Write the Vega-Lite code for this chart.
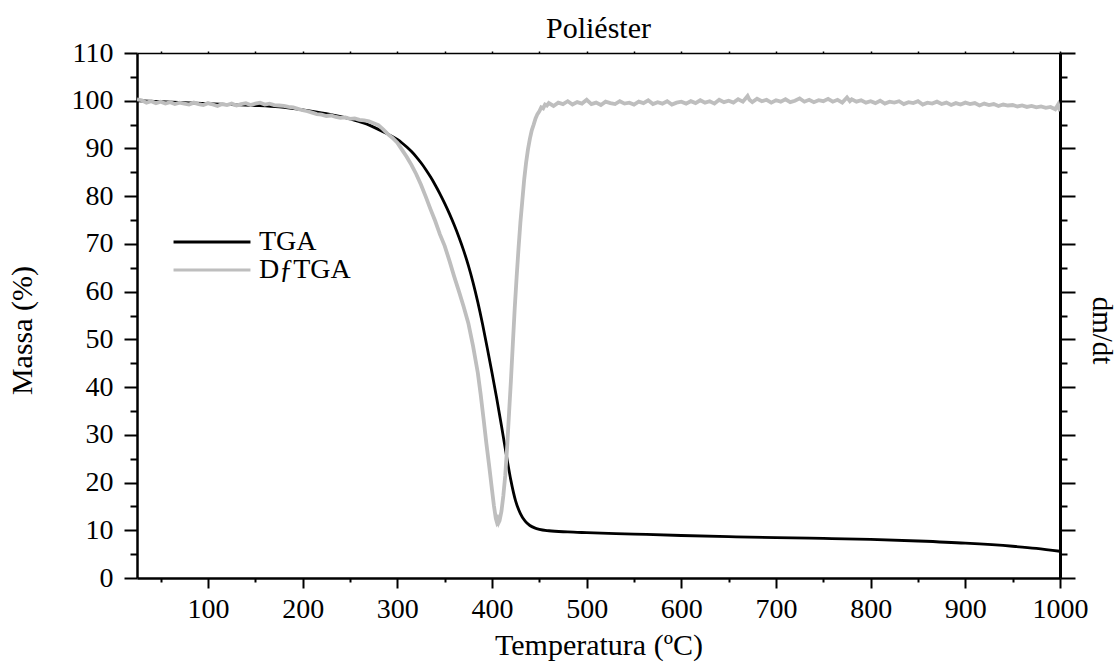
{
  "$schema": "https://vega.github.io/schema/vega-lite/v6.json",
  "width": 923,
  "height": 525,
  "autosize": {"type": "none"},
  "padding": {"left": 137, "top": 53, "right": 58, "bottom": 84},
  "background": "white",
  "title": {"text": "Poliéster", "font": "Liberation Serif", "fontSize": 30, "fontWeight": "normal", "color": "black", "offset": -5},
  "config": {
    "view": {"stroke": null},
    "axis": {"grid": false, "domainColor": "black", "tickColor": "black", "labelColor": "black", "titleColor": "black", "labelFont": "Liberation Serif", "titleFont": "Liberation Serif", "titleFontWeight": "normal", "labelFontWeight": "normal", "labelFlush": false, "labelOverlap": false, "labelBound": false, "tickCap": "butt", "format": "d"}
  },
  "data": {"values": [
    {"s":"TGA","T":25,"m":100.0},{"s":"TGA","T":50,"m":99.8},{"s":"TGA","T":75,"m":99.6},{"s":"TGA","T":100,"m":99.4},{"s":"TGA","T":125,"m":99.2},{"s":"TGA","T":150,"m":99.0},{"s":"TGA","T":175,"m":98.7},{"s":"TGA","T":200,"m":98.1},{"s":"TGA","T":225,"m":97.3},{"s":"TGA","T":250,"m":96.2},{"s":"TGA","T":265,"m":95.3},{"s":"TGA","T":280,"m":94.0},{"s":"TGA","T":290,"m":93.0},{"s":"TGA","T":300,"m":91.9},{"s":"TGA","T":305,"m":91.15},{"s":"TGA","T":310,"m":90.3},{"s":"TGA","T":315,"m":89.35},{"s":"TGA","T":320,"m":88.25},{"s":"TGA","T":325,"m":87.0},{"s":"TGA","T":330,"m":85.6},{"s":"TGA","T":335,"m":84.05},{"s":"TGA","T":340,"m":82.35},{"s":"TGA","T":345,"m":80.5},{"s":"TGA","T":350,"m":78.5},{"s":"TGA","T":355,"m":76.35},{"s":"TGA","T":360,"m":74.0},{"s":"TGA","T":365,"m":71.45},{"s":"TGA","T":370,"m":68.65},{"s":"TGA","T":375,"m":65.5},{"s":"TGA","T":380,"m":61.9},{"s":"TGA","T":385,"m":57.8},{"s":"TGA","T":390,"m":53.2},{"s":"TGA","T":395,"m":48.2},{"s":"TGA","T":400,"m":43.0},{"s":"TGA","T":405,"m":37.6},{"s":"TGA","T":410,"m":31.9},{"s":"TGA","T":415,"m":26.0},{"s":"TGA","T":420,"m":20.4},{"s":"TGA","T":425,"m":16.1},{"s":"TGA","T":430,"m":13.5},{"s":"TGA","T":435,"m":11.9},{"s":"TGA","T":440,"m":11.0},{"s":"TGA","T":445,"m":10.5},{"s":"TGA","T":450,"m":10.2},{"s":"TGA","T":460,"m":9.9},{"s":"TGA","T":480,"m":9.65},{"s":"TGA","T":500,"m":9.5},{"s":"TGA","T":550,"m":9.2},{"s":"TGA","T":600,"m":8.9},{"s":"TGA","T":650,"m":8.65},{"s":"TGA","T":700,"m":8.45},{"s":"TGA","T":750,"m":8.3},{"s":"TGA","T":800,"m":8.1},{"s":"TGA","T":850,"m":7.75},{"s":"TGA","T":900,"m":7.3},{"s":"TGA","T":950,"m":6.65},{"s":"TGA","T":975,"m":6.2},{"s":"TGA","T":1000,"m":5.6},
    {"s":"DƒTGA","T":25,"m":100.3},{"s":"DƒTGA","T":30,"m":100.1},{"s":"DƒTGA","T":35,"m":99.6},{"s":"DƒTGA","T":40,"m":99.9},{"s":"DƒTGA","T":45,"m":99.5},{"s":"DƒTGA","T":50,"m":99.8},{"s":"DƒTGA","T":55,"m":99.4},{"s":"DƒTGA","T":60,"m":99.7},{"s":"DƒTGA","T":65,"m":99.3},{"s":"DƒTGA","T":70,"m":99.6},{"s":"DƒTGA","T":75,"m":99.4},{"s":"DƒTGA","T":80,"m":99.2},{"s":"DƒTGA","T":85,"m":99.6},{"s":"DƒTGA","T":90,"m":99.3},{"s":"DƒTGA","T":95,"m":99.1},{"s":"DƒTGA","T":100,"m":99.5},{"s":"DƒTGA","T":105,"m":99.2},{"s":"DƒTGA","T":110,"m":98.9},{"s":"DƒTGA","T":115,"m":99.3},{"s":"DƒTGA","T":120,"m":99.1},{"s":"DƒTGA","T":125,"m":99.4},{"s":"DƒTGA","T":130,"m":99.0},{"s":"DƒTGA","T":135,"m":99.3},{"s":"DƒTGA","T":140,"m":99.5},{"s":"DƒTGA","T":145,"m":99.1},{"s":"DƒTGA","T":150,"m":99.4},{"s":"DƒTGA","T":155,"m":99.6},{"s":"DƒTGA","T":160,"m":99.2},{"s":"DƒTGA","T":165,"m":99.4},{"s":"DƒTGA","T":170,"m":99.1},{"s":"DƒTGA","T":175,"m":99.0},{"s":"DƒTGA","T":180,"m":98.9},{"s":"DƒTGA","T":185,"m":98.7},{"s":"DƒTGA","T":190,"m":98.6},{"s":"DƒTGA","T":195,"m":98.3},{"s":"DƒTGA","T":200,"m":98.0},{"s":"DƒTGA","T":205,"m":97.8},{"s":"DƒTGA","T":210,"m":97.5},{"s":"DƒTGA","T":215,"m":97.2},{"s":"DƒTGA","T":220,"m":97.1},{"s":"DƒTGA","T":225,"m":96.8},{"s":"DƒTGA","T":230,"m":96.9},{"s":"DƒTGA","T":235,"m":96.6},{"s":"DƒTGA","T":240,"m":96.4},{"s":"DƒTGA","T":245,"m":96.5},{"s":"DƒTGA","T":250,"m":96.2},{"s":"DƒTGA","T":255,"m":96.3},{"s":"DƒTGA","T":260,"m":96.0},{"s":"DƒTGA","T":265,"m":95.9},{"s":"DƒTGA","T":270,"m":95.7},{"s":"DƒTGA","T":275,"m":95.3},{"s":"DƒTGA","T":280,"m":94.9},{"s":"DƒTGA","T":285,"m":94.0},{"s":"DƒTGA","T":290,"m":93.0},{"s":"DƒTGA","T":295,"m":92.2},{"s":"DƒTGA","T":300,"m":91.2},{"s":"DƒTGA","T":305,"m":89.7},{"s":"DƒTGA","T":310,"m":88.2},{"s":"DƒTGA","T":315,"m":86.5},{"s":"DƒTGA","T":320,"m":84.6},{"s":"DƒTGA","T":325,"m":82.4},{"s":"DƒTGA","T":330,"m":79.9},{"s":"DƒTGA","T":335,"m":77.3},{"s":"DƒTGA","T":340,"m":74.8},{"s":"DƒTGA","T":345,"m":72.0},{"s":"DƒTGA","T":350,"m":69.6},{"s":"DƒTGA","T":355,"m":66.5},{"s":"DƒTGA","T":360,"m":63.2},{"s":"DƒTGA","T":365,"m":60.1},{"s":"DƒTGA","T":370,"m":56.9},{"s":"DƒTGA","T":375,"m":53.4},{"s":"DƒTGA","T":380,"m":48.6},{"s":"DƒTGA","T":385,"m":43.0},{"s":"DƒTGA","T":388,"m":38.5},{"s":"DƒTGA","T":391,"m":33.5},{"s":"DƒTGA","T":394,"m":28.3},{"s":"DƒTGA","T":397,"m":23.5},{"s":"DƒTGA","T":400,"m":18.5},{"s":"DƒTGA","T":402,"m":15.2},{"s":"DƒTGA","T":404,"m":12.5},{"s":"DƒTGA","T":405,"m":11.8},{"s":"DƒTGA","T":406,"m":12.3},{"s":"DƒTGA","T":407,"m":11.6},{"s":"DƒTGA","T":408,"m":12.0},{"s":"DƒTGA","T":410,"m":14.0},{"s":"DƒTGA","T":412,"m":17.3},{"s":"DƒTGA","T":414,"m":21.5},{"s":"DƒTGA","T":416,"m":27.5},{"s":"DƒTGA","T":418,"m":34.5},{"s":"DƒTGA","T":420,"m":41.4},{"s":"DƒTGA","T":422,"m":49.0},{"s":"DƒTGA","T":424,"m":56.5},{"s":"DƒTGA","T":426,"m":63.0},{"s":"DƒTGA","T":428,"m":69.0},{"s":"DƒTGA","T":430,"m":74.5},{"s":"DƒTGA","T":432,"m":79.0},{"s":"DƒTGA","T":434,"m":83.5},{"s":"DƒTGA","T":436,"m":87.0},{"s":"DƒTGA","T":438,"m":89.8},{"s":"DƒTGA","T":440,"m":92.0},{"s":"DƒTGA","T":442,"m":93.8},{"s":"DƒTGA","T":444,"m":95.0},{"s":"DƒTGA","T":446,"m":96.3},{"s":"DƒTGA","T":448,"m":97.2},{"s":"DƒTGA","T":450,"m":97.8},{"s":"DƒTGA","T":452,"m":98.6},{"s":"DƒTGA","T":454,"m":98.4},{"s":"DƒTGA","T":456,"m":99.2},{"s":"DƒTGA","T":458,"m":99.0},{"s":"DƒTGA","T":460,"m":99.5},
    {"s":"DƒTGA","T":465,"m":98.9},{"s":"DƒTGA","T":470,"m":99.6},{"s":"DƒTGA","T":475,"m":99.3},{"s":"DƒTGA","T":480,"m":99.9},{"s":"DƒTGA","T":485,"m":99.2},{"s":"DƒTGA","T":490,"m":99.7},{"s":"DƒTGA","T":495,"m":99.4},{"s":"DƒTGA","T":500,"m":100.2},{"s":"DƒTGA","T":505,"m":99.3},{"s":"DƒTGA","T":510,"m":99.6},{"s":"DƒTGA","T":515,"m":99.1},{"s":"DƒTGA","T":520,"m":99.8},{"s":"DƒTGA","T":525,"m":99.5},{"s":"DƒTGA","T":530,"m":99.3},{"s":"DƒTGA","T":535,"m":99.9},{"s":"DƒTGA","T":540,"m":99.4},{"s":"DƒTGA","T":545,"m":99.6},{"s":"DƒTGA","T":550,"m":99.2},{"s":"DƒTGA","T":555,"m":99.8},{"s":"DƒTGA","T":560,"m":99.5},{"s":"DƒTGA","T":565,"m":100.1},{"s":"DƒTGA","T":570,"m":99.3},{"s":"DƒTGA","T":575,"m":99.7},{"s":"DƒTGA","T":580,"m":99.4},{"s":"DƒTGA","T":585,"m":99.9},{"s":"DƒTGA","T":590,"m":99.2},{"s":"DƒTGA","T":595,"m":99.6},{"s":"DƒTGA","T":600,"m":99.8},{"s":"DƒTGA","T":605,"m":99.4},{"s":"DƒTGA","T":610,"m":99.9},{"s":"DƒTGA","T":615,"m":99.5},{"s":"DƒTGA","T":620,"m":100.1},{"s":"DƒTGA","T":625,"m":99.6},{"s":"DƒTGA","T":630,"m":99.9},{"s":"DƒTGA","T":635,"m":99.4},{"s":"DƒTGA","T":640,"m":100.2},{"s":"DƒTGA","T":645,"m":99.7},{"s":"DƒTGA","T":650,"m":100.0},{"s":"DƒTGA","T":655,"m":99.6},{"s":"DƒTGA","T":660,"m":100.3},{"s":"DƒTGA","T":665,"m":99.8},{"s":"DƒTGA","T":670,"m":101.0},{"s":"DƒTGA","T":672,"m":100.2},{"s":"DƒTGA","T":675,"m":99.7},{"s":"DƒTGA","T":680,"m":100.4},{"s":"DƒTGA","T":685,"m":99.9},{"s":"DƒTGA","T":690,"m":100.2},{"s":"DƒTGA","T":695,"m":99.6},{"s":"DƒTGA","T":700,"m":100.1},{"s":"DƒTGA","T":705,"m":99.8},{"s":"DƒTGA","T":710,"m":100.3},{"s":"DƒTGA","T":715,"m":99.7},{"s":"DƒTGA","T":720,"m":100.0},{"s":"DƒTGA","T":725,"m":100.5},{"s":"DƒTGA","T":730,"m":99.8},{"s":"DƒTGA","T":735,"m":100.2},{"s":"DƒTGA","T":740,"m":99.7},{"s":"DƒTGA","T":745,"m":100.1},{"s":"DƒTGA","T":750,"m":99.9},{"s":"DƒTGA","T":755,"m":100.4},{"s":"DƒTGA","T":760,"m":99.8},{"s":"DƒTGA","T":765,"m":100.2},{"s":"DƒTGA","T":770,"m":99.6},{"s":"DƒTGA","T":775,"m":100.7},{"s":"DƒTGA","T":778,"m":99.9},{"s":"DƒTGA","T":780,"m":100.3},{"s":"DƒTGA","T":785,"m":99.8},{"s":"DƒTGA","T":790,"m":100.1},{"s":"DƒTGA","T":795,"m":99.6},{"s":"DƒTGA","T":800,"m":99.9},{"s":"DƒTGA","T":805,"m":99.5},{"s":"DƒTGA","T":810,"m":100.0},{"s":"DƒTGA","T":815,"m":99.4},{"s":"DƒTGA","T":820,"m":99.8},{"s":"DƒTGA","T":825,"m":99.6},{"s":"DƒTGA","T":830,"m":99.9},{"s":"DƒTGA","T":835,"m":99.3},{"s":"DƒTGA","T":840,"m":99.7},{"s":"DƒTGA","T":845,"m":99.5},{"s":"DƒTGA","T":850,"m":99.9},{"s":"DƒTGA","T":855,"m":99.2},{"s":"DƒTGA","T":860,"m":99.6},{"s":"DƒTGA","T":865,"m":99.4},{"s":"DƒTGA","T":870,"m":99.8},{"s":"DƒTGA","T":875,"m":99.3},{"s":"DƒTGA","T":880,"m":99.6},{"s":"DƒTGA","T":885,"m":99.1},{"s":"DƒTGA","T":890,"m":99.5},{"s":"DƒTGA","T":895,"m":99.2},{"s":"DƒTGA","T":900,"m":99.6},{"s":"DƒTGA","T":905,"m":99.3},{"s":"DƒTGA","T":910,"m":99.5},{"s":"DƒTGA","T":915,"m":99.0},{"s":"DƒTGA","T":920,"m":99.4},{"s":"DƒTGA","T":925,"m":99.1},{"s":"DƒTGA","T":930,"m":99.3},{"s":"DƒTGA","T":935,"m":98.9},{"s":"DƒTGA","T":940,"m":99.2},{"s":"DƒTGA","T":945,"m":99.0},{"s":"DƒTGA","T":950,"m":99.1},{"s":"DƒTGA","T":955,"m":98.8},{"s":"DƒTGA","T":960,"m":99.0},{"s":"DƒTGA","T":965,"m":98.7},{"s":"DƒTGA","T":970,"m":98.9},{"s":"DƒTGA","T":975,"m":98.6},{"s":"DƒTGA","T":980,"m":98.8},{"s":"DƒTGA","T":985,"m":98.5},{"s":"DƒTGA","T":990,"m":98.7},{"s":"DƒTGA","T":995,"m":98.2},{"s":"DƒTGA","T":998,"m":99.2},{"s":"DƒTGA","T":1000,"m":97.8}
  ]},
  "layer": [
    {
      "transform": [{"filter": "datum.s == 'TGA'"}],
      "mark": {"type": "line", "strokeWidth": 2.8, "clip": true, "interpolate": "monotone"},
      "encoding": {
        "x": {"field": "T", "type": "quantitative", "scale": {"domain": [25, 1000], "nice": false, "zero": false},
          "axis": {"orient": "bottom", "offset": 0, "values": [100,200,300,400,500,600,700,800,900,1000], "title": "Temperatura (ºC)", "titleFontSize": 30, "titlePadding": 7, "labelFontSize": 28, "labelPadding": 7, "tickSize": 10, "tickWidth": 2, "domainWidth": 2.5}},
        "y": {"field": "m", "type": "quantitative", "scale": {"domain": [0, 110], "nice": false, "zero": false},
          "axis": {"orient": "left", "offset": 0, "values": [0,10,20,30,40,50,60,70,80,90,100,110], "title": "Massa (%)", "titleFontSize": 30, "titlePadding": 34, "titleY": 277, "labelFontSize": 28, "labelPadding": 11, "tickSize": 13, "tickWidth": 2, "domainWidth": 2.5}},
        "color": {"field": "s", "type": "nominal", "scale": {"domain": ["TGA", "DƒTGA"], "range": ["#000000", "#bebebe"]},
          "legend": {"orient": "none", "legendX": 61, "legendY": 175, "title": null, "labelFont": "Liberation Serif", "labelFontSize": 28, "labelColor": "black", "symbolType": "M-4,0H4", "symbolSize": 370, "symbolStrokeWidth": 3, "labelOffset": 33, "rowPadding": -1, "padding": 0, "labelLimit": 300}}
      }
    },
    {
      "transform": [{"filter": "datum.s != 'TGA'"}],
      "mark": {"type": "line", "strokeWidth": 3.8, "clip": true},
      "encoding": {
        "x": {"field": "T", "type": "quantitative",
          "axis": {"orient": "bottom", "offset": 0, "values": [50,150,250,350,450,550,650,750,850,950], "title": null, "labels": false, "domain": false, "tickSize": 4, "tickWidth": 2}},
        "y": {"field": "m", "type": "quantitative",
          "axis": {"orient": "left", "offset": 0, "values": [5,15,25,35,45,55,65,75,85,95,105], "title": null, "labels": false, "domain": false, "tickSize": 7, "tickWidth": 2}},
        "color": {"field": "s", "type": "nominal",
          "legend": {"orient": "none", "legendX": 61, "legendY": 175, "title": null, "labelFont": "Liberation Serif", "labelFontSize": 28, "labelColor": "black", "symbolType": "M-4,0H4", "symbolSize": 370, "symbolStrokeWidth": 3, "labelOffset": 33, "rowPadding": -1, "padding": 0, "labelLimit": 300}}
      }
    },
    {
      "data": {"values": [{"T": 500, "m": 50}]},
      "mark": {"type": "point", "opacity": 0},
      "encoding": {
        "x": {"field": "T", "type": "quantitative",
          "axis": {"orient": "top", "offset": 0, "values": [50,100,150,200,250,300,350,400,450,500,550,600,650,700,750,800,850,900,950,1000], "title": null, "labels": false, "domainWidth": 1.5, "tickSize": 2, "tickWidth": 1.5}},
        "y": {"field": "m", "type": "quantitative",
          "axis": {"orient": "right", "offset": 0, "values": [0,10,20,30,40,50,60,70,80,90,100,110], "title": "dm/dt", "titleFontSize": 29, "titlePadding": 10, "titleY": 277, "labels": false, "tickSize": 15, "tickWidth": 2, "domainWidth": 3}}
      }
    },
    {
      "data": {"values": [{"T": 500, "m": 50}]},
      "mark": {"type": "point", "opacity": 0},
      "encoding": {
        "x": {"field": "T", "type": "quantitative", "axis": null},
        "y": {"field": "m", "type": "quantitative",
          "axis": {"orient": "right", "offset": 0, "values": [5,15,25,35,45,55,65,75,85,95,105], "title": null, "labels": false, "domain": false, "tickSize": 7, "tickWidth": 2}}
      }
    }
  ],
  "resolve": {"axis": {"x": "independent", "y": "independent"}}
}
